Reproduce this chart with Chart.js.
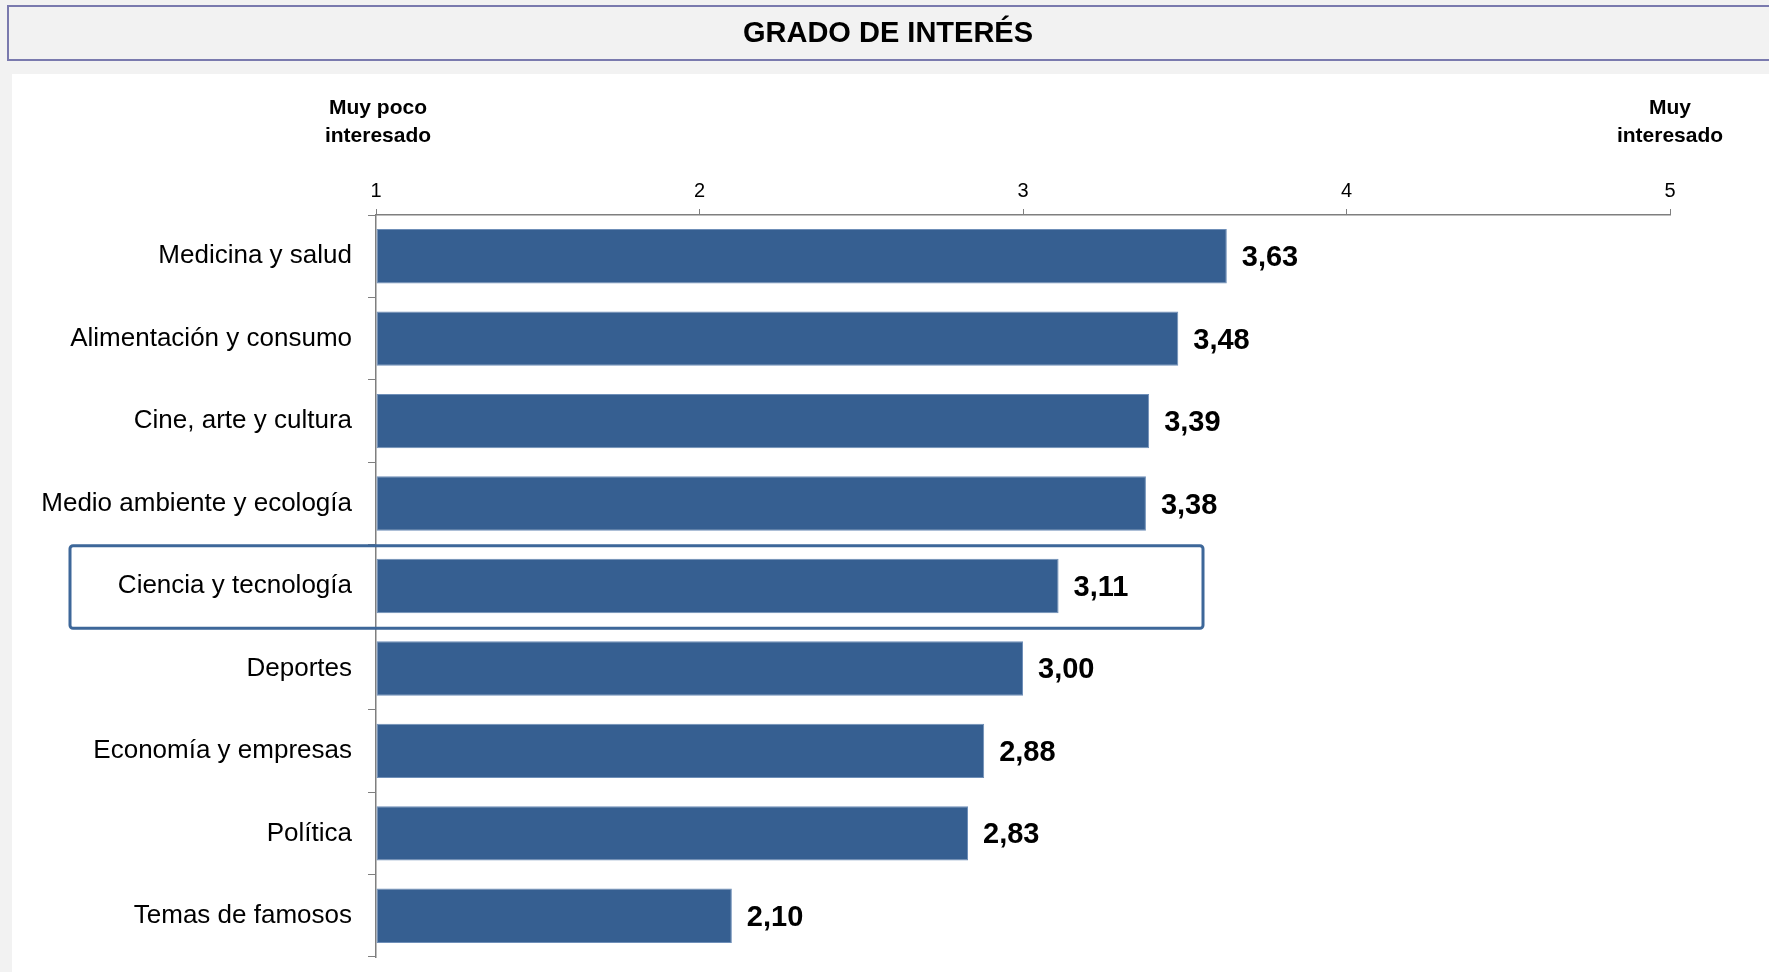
<!DOCTYPE html>
<html>
<head>
<meta charset="utf-8">
<script src="https://cdn.jsdelivr.net/npm/chart.js@4.4.1/dist/chart.umd.min.js"></script>
<style>
  html, body { margin: 0; padding: 0; background: #f2f2f2; }
  canvas { display: block; }
</style>
</head>
<body>
<canvas id="interestChart" width="1769" height="972"></canvas>
<script>
// data
var categories = [
    "Medicina y salud",
    "Alimentación y consumo",
    "Cine, arte y cultura",
    "Medio ambiente y ecología",
    "Ciencia y tecnología",
    "Deportes",
    "Economía y empresas",
    "Política",
    "Temas de famosos"
];
var interestValues = [3.63, 3.48, 3.39, 3.38, 3.11, 3.00, 2.88, 2.83, 2.10];
var scaleMin = 1;
var scaleMax = 5;
var lowLabel = ["Muy poco", "interesado"];
var highLabel = ["Muy", "interesado"];
var chartTitle = "GRADO DE INTERÉS";
var highlighted = "Ciencia y tecnología";

var FONT = "'Liberation Sans', Arial, sans-serif";
var BAR_BLUE = "#365f91";

// background, title strip, white panel
var backdrop = {
    id: "backdrop",
    beforeDraw: function(chart) {
        var c = chart.ctx;
        c.save();
        c.fillStyle = "#f2f2f2";
        c.fillRect(0, 0, chart.width, chart.height);
        c.fillStyle = "#ffffff";
        c.fillRect(12, 74, chart.width - 12, chart.height - 74);
        // title strip
        c.fillStyle = "#f2f2f2";
        c.fillRect(8, 6, chart.width, 54);
        c.strokeStyle = "#7a7aae";
        c.lineWidth = 2;
        c.strokeRect(8, 6, chart.width, 54);
        c.fillStyle = "#000";
        c.font = "bold 29px " + FONT;
        c.textAlign = "center";
        c.textBaseline = "middle";
        c.fillText(chartTitle, 888, 34);
        c.restore();
    }
};

// value labels, end labels and the highlight frame
var annotations = {
    id: "annotations",
    afterDatasetsDraw: function(chart) {
        var c = chart.ctx;
        var xs = chart.scales.x, ys = chart.scales.y;
        var meta = chart.getDatasetMeta(0);
        c.save();
        c.fillStyle = "#000";
        c.font = "bold 29px " + FONT;
        c.textAlign = "left";
        c.textBaseline = "middle";
        meta.data.forEach(function(bar, i) {
            var txt = interestValues[i].toFixed(2).replace(".", ",");
            c.fillText(txt, bar.x + 15, bar.y + 2);
        });

        c.font = "bold 21px " + FONT;
        c.textAlign = "center";
        var lx = xs.getPixelForValue(scaleMin), hx = xs.getPixelForValue(scaleMax);
        c.fillText(lowLabel[0], lx + 2, 108);
        c.fillText(lowLabel[1], lx + 2, 136);
        c.fillText(highLabel[0], hx, 108);
        c.fillText(highLabel[1], hx, 136);

        var idx = categories.indexOf(highlighted);
        var band = (ys.bottom - ys.top) / categories.length;
        var cy = ys.getPixelForValue(idx);
        var top = cy - band / 2 + 1, bottom = cy + band / 2 + 1;
        c.strokeStyle = "#3d6799";
        c.lineWidth = 3;
        c.beginPath();
        c.roundRect(70, top, 1203 - 70, bottom - top, 3);
        c.stroke();
        c.restore();
    }
};

var ctx = document.getElementById("interestChart").getContext("2d");
var interestChart = new Chart(ctx, {
    type: "bar",
    data: {
        labels: categories,
        datasets: [{
            data: interestValues,
            backgroundColor: BAR_BLUE,
            borderColor: "#6f8fb8",
            borderWidth: 1,
            borderSkipped: false,
            barPercentage: 0.66,
            categoryPercentage: 1.0,
            base: scaleMin
        }]
    },
    options: {
        indexAxis: "y",
        responsive: false,
        animation: false,
        devicePixelRatio: 1,
        layout: { padding: { left: 12, right: 99, top: 74, bottom: 15 } },
        plugins: {
            legend: { display: false },
            tooltip: { enabled: false },
            title: { display: false }
        },
        scales: {
            x: {
                position: "top",
                min: scaleMin,
                max: scaleMax,
                afterFit: function(s) {
                    s.height = 215 - 74;
                    s.paddingLeft = 0; s.paddingRight = 0;
                },
                ticks: {
                    stepSize: 1,
                    color: "#000",
                    padding: 6,
                    font: { family: FONT, size: 20 }
                },
                grid: {
                    drawOnChartArea: false,
                    tickLength: 6,
                    color: "#7f7f7f"
                },
                border: { color: "#7f7f7f", width: 1.5 }
            },
            y: {
                afterFit: function(s) {
                    s.width = 376 - 12;
                    s.paddingTop = 0; s.paddingBottom = 0;
                },
                ticks: {
                    color: "#000",
                    padding: 16,
                    font: { family: FONT, size: 26 }
                },
                grid: {
                    offset: true,
                    drawOnChartArea: false,
                    tickLength: 8,
                    color: "#7f7f7f"
                },
                border: { color: "#7f7f7f", width: 1.5 }
            }
        }
    },
    plugins: [backdrop, annotations]
});
</script>
</body>
</html>
